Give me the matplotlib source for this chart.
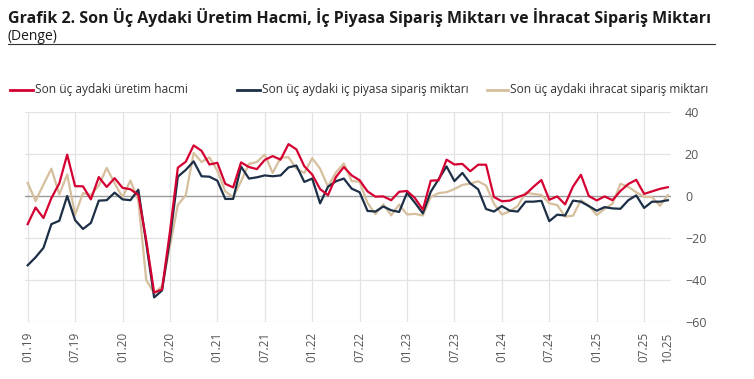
import numpy as np
import matplotlib
matplotlib.use("Agg")
import matplotlib.pyplot as plt
from matplotlib.lines import Line2D

plt.rcParams['font.family'] = ['Open Sans', 'DejaVu Sans']

# monthly, 01.19 .. 10.25
uretim = [-13.4, -5.5, -10.5, -1, 6, 19.7, 4.7, 4.6, -1.6, 9, 4.3, 8.5, 3.9, 3.2, 0.5,
          -21, -46, -44.5, -17, 13.5, 16.3, 24.1, 21.5, 15, 15.8, 5.8, 4.1, 16, 13.8, 12.8,
          17.2, 19, 17.3, 24.7, 22.2, 14.2, 10.2, 3.3, 0.4, 9, 13.8, 9.8, 7.5, 2.2, -0.3,
          -0.2, -2, 2, 2.4, -1, -6.5, 7.3, 7.5, 17.3, 15, 15.3, 11.8, 14.9, 14.9, -0.5,
          -2.5, -2.2, -0.5, 0.8, 4.4, 7.6, -1.8, -0.2, -4, 4.5, 10.1, 0, -2.1, -0.2, -2,
          2.4, 5.7, 7.7, 1, 2.2, 3.4, 4.2]
ic_piyasa = [-33, -29.2, -24.7, -13.4, -11.8, 0, -11.5, -15.7, -12.8, -2.2, -2, 1.6, -1.6, -2, 3,
             -22.5, -48.3, -45, -20.5, 9.2, 12.4, 16.5, 9.4, 9.2, 7.3, -1.4, -1.4, 14, 8.3, 8.9,
             9.8, 9.4, 9.8, 13.6, 14.5, 6.7, 8.3, -3.5, 4.4, 7, 8.3, 3.5, 1.8, -7.1, -7.4,
             -5, -6.8, -7.6, 1.5, -3.2, -8.3, 2, 8, 14.1, 7.1, 11, 6, 3.2, -6.2, -7.4,
             -4.8, -7, -7.4, -2.7, -2.7, -2.3, -12, -8.9, -9.3, -2.2, -2.7, -4.8, -7, -5.3, -5.9,
             -6.1, -2, 0.3, -5.7, -2.7, -2.7, -2]
ihracat = [6.3, -2.4, 5.5, 13, 0.8, 10.2, -8.9, 1.4, 0.4, 5, 13.4, 6.1, -0.6, 7.4, -2,
           -40, -46.3, -43, -24, -4.3, 0.4, 20.5, 16.2, 18.4, 12, 2.2, -0.5, 7, 15.3, 16.2,
           19.7, 11, 18.2, 18.5, 13, 11, 18, 13, 4.5, 11.2, 15.5, 7.1, 6.8, -3.3, -8.6,
           -4, -9.2, -4.1, -8.8, -8.5, -9.3, -0.5, 1.4, 1.8, 3.3, 5.3, 5.9, 7, 5, -3.7,
           -8.8, -7.3, -4.8, 1.6, 1, 0.5, -3.5, -4.3, -9.8, -9.4, -2, -4.6, -9.1, -6.1, -3.7,
           5.8, 4.4, 1.8, -0.4, -0.5, -4.7, 0.4]

tick_pos = [0, 6, 12, 18, 24, 30, 36, 42, 48, 54, 60, 66, 72, 78, 81]
tick_labels = ['01.19', '07.19', '01.20', '07.20', '01.21', '07.21', '01.22', '07.22',
               '01.23', '07.23', '01.24', '07.24', '01.25', '07.25', '10.25']
names = ['Son üç aydaki üretim hacmi', 'Son üç aydaki iç piyasa sipariş miktarı',
         'Son üç aydaki ihracat sipariş miktarı']
colors = ['#d50032', '#1c2f46', '#d5bf9c']

W, H = 754, 379
fig = plt.figure(figsize=(7.54, 3.79), dpi=100)
ax = fig.add_axes([25.3 / W, 1 - 322 / H, (671 - 25.3) / W, 210 / H])

x = np.arange(len(uretim))
for p in tick_pos[:-1]:
    ax.axvline(p, color='#e3e3e3', lw=0.9, zorder=0)
for yv in [40, 20, -20, -40, -60]:
    ax.axhline(yv, color='#e3e3e3', lw=0.9, zorder=0)
ax.axhline(0, color='#9a9a9a', lw=1.0, zorder=1)

series = [uretim, ic_piyasa, ihracat]
for s, c in zip(series[::-1], colors[::-1]):
    ax.plot(x, s, color=c, lw=1.6, zorder=3)

ax.set_xlim(-0.3, 81.4)
ax.set_ylim(-60, 40)
ax.set_yticks([40, 20, 0, -20, -40, -60])
ax.yaxis.tick_right()
ax.tick_params(axis='y', length=0, pad=10, labelsize=9, labelcolor='#555555')
ax.set_xticks(tick_pos)
ax.set_xticklabels(tick_labels, rotation=90, fontsize=8.5, color='#555555')
ax.tick_params(axis='x', length=0, pad=7)
for sp in ax.spines.values():
    sp.set_visible(False)

fig.text(8 / W, 1 - 18 / H, 'Grafik 2. Son Üç Aydaki Üretim Hacmi, İç Piyasa Sipariş Miktarı ve İhracat Sipariş Miktarı',
         fontsize=11.5, fontweight='bold', color='#1a1a1a', va='center', ha='left')
fig.text(8 / W, 1 - 36 / H, '(Denge)', fontsize=10, color='#1a1a1a', va='center', ha='left')
fig.add_artist(Line2D([8 / W, 715 / W], [1 - 44 / H, 1 - 44 / H], color='#333333', lw=0.8))

# legend, laid out by hand to match the spacing
leg_x = [(10, 33), (237, 260), (487, 508)]
leg_y = 1 - 90 / H
for (x0, x1), c, name in zip(leg_x, colors, names):
    fig.add_artist(Line2D([x0 / W, x1 / W], [leg_y, leg_y], color=c, lw=2))
    fig.text((x1 + 2) / W, leg_y, name, fontsize=8.6, color='#333333', va='center', ha='left')

fig.savefig('out.png', dpi=100)
